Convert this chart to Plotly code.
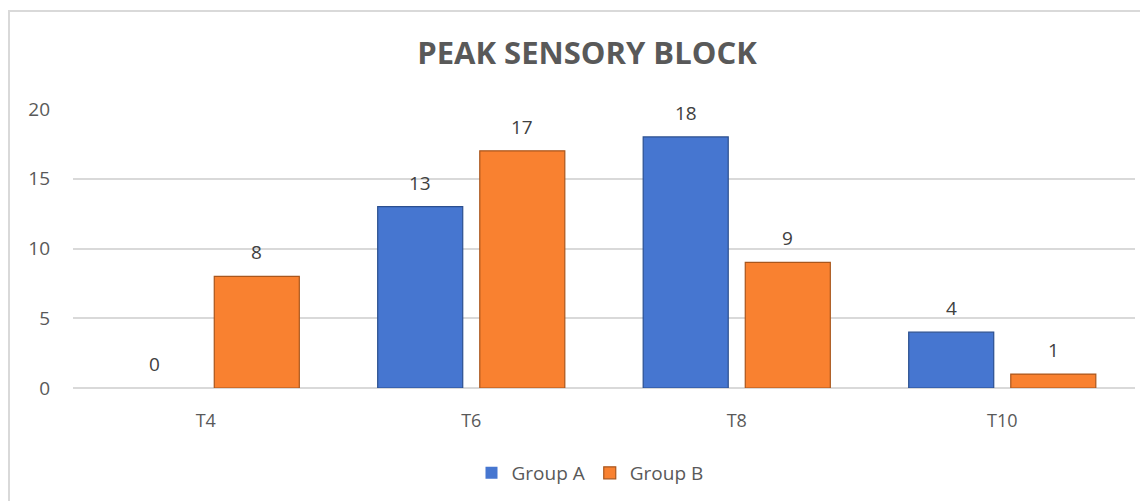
import plotly.graph_objects as go

categories = ["T4", "T6", "T8", "T10"]
group_a = [0, 13, 18, 4]
group_b = [8, 17, 9, 1]
series_names = ["Group A", "Group B"]
y_ticks = [0, 5, 10, 15, 20]

FONT = "Open Sans"
TXT = "#595959"
OFF = 8  # page body margin

fig = go.Figure()
fig.add_trace(go.Bar(
    x=categories, y=group_a, name=series_names[0],
    marker=dict(color="#4676D0",
                line=dict(color="#2B4F8F", width=[0 if v == 0 else 1.2 for v in group_a])),
))
fig.add_trace(go.Bar(
    x=categories, y=group_b, name=series_names[1],
    marker=dict(color="#F98130",
                line=dict(color="#A9561C", width=[0 if v == 0 else 1.2 for v in group_b])),
))

annotations = []
for vals, shift in ((group_a, -51), (group_b, 51)):
    for c, v in zip(categories, vals):
        annotations.append(dict(
            x=c, y=v, xref="x", yref="y", text=str(v), showarrow=False,
            xshift=shift, yshift=9, yanchor="bottom",
            font=dict(family=FONT, size=19, color="#404040"),
        ))

W, H = 1148 - OFF, 501 - OFF
L, R, T, B = 73 - OFF, 1148 - 1135, 109 - OFF, 501 - 388
pw, ph = W - L - R, H - T - B
px = lambda p: (p - OFF - L) / pw
py = lambda p: (H - B - (p - OFF)) / ph

fig.update_layout(
    width=W, height=H,
    margin=dict(l=L, r=R, t=T, b=B, autoexpand=False),
    paper_bgcolor="white", plot_bgcolor="white",
    barmode="group", bargap=0.231, bargroupgap=0.167,
    title=dict(text="<b>PEAK SENSORY BLOCK</b>", x=px(587), xanchor="center",
               xref="paper", y=1 - (53 - OFF) / H, yanchor="middle",
               font=dict(family=FONT, size=31, color=TXT)),
    font=dict(family=FONT, color=TXT),
    xaxis=dict(showgrid=False, showline=False, ticks="", ticklabelstandoff=20,
               tickfont=dict(size=18, color=TXT)),
    yaxis=dict(range=[0, 20], tickvals=y_ticks, showgrid=True,
               gridcolor="#D9D9D9", gridwidth=1.5, zeroline=True,
               zerolinecolor="#D9D9D9", zerolinewidth=1.5, showline=False,
               ticks="", ticklabelstandoff=22, tickfont=dict(size=19, color=TXT)),
    legend=dict(orientation="h", x=px(590), xanchor="center", y=py(473),
                yanchor="middle", font=dict(size=19, color=TXT),
                itemwidth=30, traceorder="normal"),
    annotations=annotations,
    shapes=[dict(type="rect", xref="paper", yref="paper",
                 x0=px(9), x1=px(1160), y0=py(520), y1=py(11),
                 line=dict(color="#D9D9D9", width=2), layer="below")],
)

fig.write_html("out.html")
